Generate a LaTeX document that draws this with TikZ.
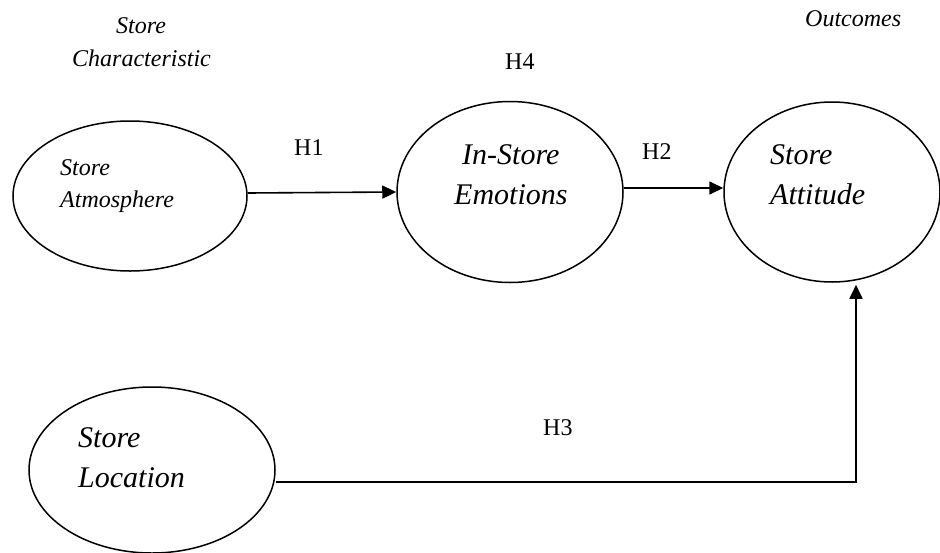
\documentclass[tikz,border=0pt]{standalone}
\usepackage{fontspec}
\setmainfont{Liberation Serif}
\usetikzlibrary{arrows.meta,shapes.geometric}
\begin{document}
\begin{tikzpicture}[x=1pt,y=-1pt,
 ell/.style={draw, ellipse, line width=1.5pt, inner sep=0pt},
 arr/.style={line width=1.6pt, -{Triangle[length=14pt,width=13pt]}},
 small/.style={font=\fontsize{24}{24}\selectfont\itshape, inner sep=0pt, anchor=base west},
 big/.style={font=\fontsize{30}{30}\selectfont\itshape, inner sep=0pt, anchor=base west},
 hlab/.style={font=\fontsize{24}{24}\selectfont, inner sep=0pt, anchor=base west}]
\useasboundingbox (0,0) rectangle (940,552);
\fill[white] (0,0) rectangle (940,552);
% ellipses
\node[ell, minimum width=234pt, minimum height=150pt] (atm) at (130,196) {};
\node[ell, minimum width=226pt, minimum height=181pt] (emo) at (510,192) {};
\node[ell, minimum width=216pt, minimum height=180pt] (att) at (832,192) {};
\node[ell, minimum width=246pt, minimum height=166pt] (loc) at (152,470) {};
% texts in ellipses
\node[small] (atm1) at (60,175) {Store};
\node[small] (atm2) at (60,207) {Atmosphere};
\node[big] (emo1) at (462,164) {In-Store};
\node[big] (emo2) at (454,204) {Emotions};
\node[big] (att1) at (770,164) {Store};
\node[big] (att2) at (770,204) {Attitude};
\node[big] (loc1) at (78,447) {Store};
\node[big] (loc2) at (78,487) {Location};
% headings
\node[small] (sc1) at (116,33) {Store};
\node[small] (sc2) at (72,66) {Characteristic};
\node[small] (out) at (805,26) {Outcomes};
% hypothesis labels
\node[hlab] (h4) at (505,69) {H4};
\node[hlab] (h1) at (294,155) {H1};
\node[hlab] (h2) at (642,159) {H2};
\node[hlab] (h3) at (543,435) {H3};
% connectors
\draw[arr] ([yshift=3pt]atm.east) -- (emo.west);
\draw[arr] ([yshift=4pt]emo.east) -- ([yshift=4pt]att.west);
\draw[arr] ([yshift=-12pt]loc.east) -| ([xshift=24pt,yshift=-2pt]att.south);
\end{tikzpicture}
\end{document}
